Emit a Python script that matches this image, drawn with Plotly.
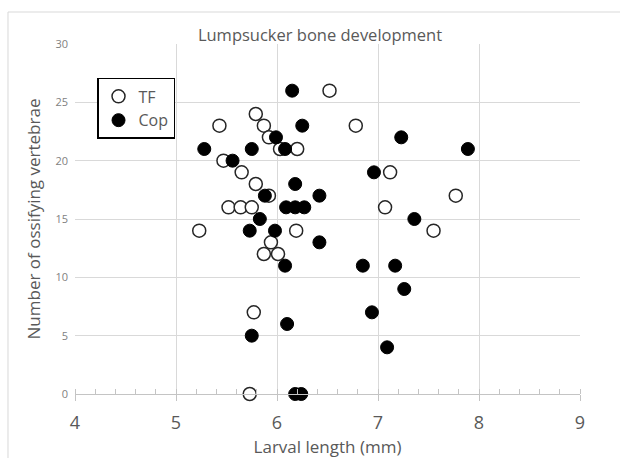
import plotly.graph_objects as go

# ── data ─────────────────────────────────────────────────────
tf_length = [6.52, 5.79, 5.43, 5.87, 6.78, 5.92, 6.03, 6.20, 5.47, 5.65,
             7.12, 5.79, 5.92, 7.77, 5.52, 5.64, 5.75, 7.07, 5.23, 6.19,
             7.55, 5.94, 5.87, 6.01, 5.77, 5.73]
tf_vert = [26, 24, 23, 23, 23, 22, 21, 21, 20, 19,
           19, 18, 17, 17, 16, 16, 16, 16, 14, 14,
           14, 13, 12, 12, 7, 0]

cop_length = [6.15, 6.25, 5.99, 7.23, 5.28, 5.75, 6.08, 7.89, 5.56, 6.96,
              6.18, 5.88, 6.42, 6.09, 6.18, 6.27, 5.83, 7.36, 5.73, 5.98,
              6.42, 6.08, 6.85, 7.17, 7.26, 6.94, 6.10, 5.75, 7.09, 6.18,
              6.24]
cop_vert = [26, 23, 22, 22, 21, 21, 21, 21, 20, 19,
            18, 17, 17, 16, 16, 16, 15, 15, 14, 14,
            13, 11, 11, 11, 9, 7, 6, 5, 4, 0,
            0]

FONT = "Open Sans"
GREY = "#595959"
GRID = "#d9d9d9"
W, H = 620, 458

fig = go.Figure()
fig.add_trace(go.Scatter(
    x=tf_length, y=tf_vert, mode="markers", name="TF", cliponaxis=False,
    marker=dict(size=13, color="white", line=dict(color="#262626", width=1.5))))
fig.add_trace(go.Scatter(
    x=cop_length, y=cop_vert, mode="markers", name="Cop", cliponaxis=False,
    marker=dict(size=13, color="black", line=dict(color="black", width=1))))

fig.update_layout(
    width=W, height=H,
    margin=dict(l=75, r=40, t=44, b=64),
    paper_bgcolor="white", plot_bgcolor="white",
    font=dict(family=FONT, color=GREY),
    title=dict(text="Lumpsucker bone development", x=320 / W, xref="container",
               xanchor="center", y=1 - 35 / H, yanchor="middle",
               font=dict(size=16.5, color=GREY)),
    legend=dict(x=0.0436, y=0.903, xanchor="left", yanchor="top",
                bordercolor="black", borderwidth=1.5, bgcolor="white",
                font=dict(size=16, color=GREY), itemwidth=30,
                tracegroupgap=0),
    showlegend=True,
)

fig.update_xaxes(
    range=[4, 9], dtick=1, tick0=4, automargin=False,
    showgrid=True, gridcolor=GRID, gridwidth=1, zeroline=False,
    showline=True, linecolor="#c4c4c4", linewidth=1,
    ticks="outside", ticklen=6, tickcolor="#c4c4c4",
    minor=dict(dtick=0.2, ticks="inside", ticklen=5, tickcolor="#c4c4c4",
               showgrid=False),
    tickfont=dict(size=18, color=GREY),
    ticklabelstandoff=6,
    title=dict(text="Larval length (mm)", font=dict(size=17, color=GREY),
               standoff=8),
)
fig.update_yaxes(
    range=[0, 30], dtick=5, automargin=False,
    showgrid=True, gridcolor=GRID, gridwidth=1, zeroline=False,
    showline=False, ticks="",
    tickfont=dict(size=11, color="#7f7f7f"),
    ticklabelstandoff=6,
    title=dict(text="Number of ossifying vertebrae",
               font=dict(size=17, color=GREY), standoff=10),
)

# light frame of the chart area: only its top and left edges are in view
fig.add_shape(type="line", xref="paper", yref="paper",
              x0=-0.1327, x1=1.2, y0=1.0914, y1=1.0914,
              line=dict(color="#d9d9d9", width=1), layer="below")
fig.add_shape(type="line", xref="paper", yref="paper",
              x0=-0.1327, x1=-0.1327, y0=-0.3, y1=1.0914,
              line=dict(color="#d9d9d9", width=1), layer="below")

# drop the browser's default body margin so the figure sits at 0,0
fig.write_html(
    "out.html",
    config={"displayModeBar": False},
    post_script="document.body.style.margin='0';"
                "document.body.style.overflow='hidden';",
)
